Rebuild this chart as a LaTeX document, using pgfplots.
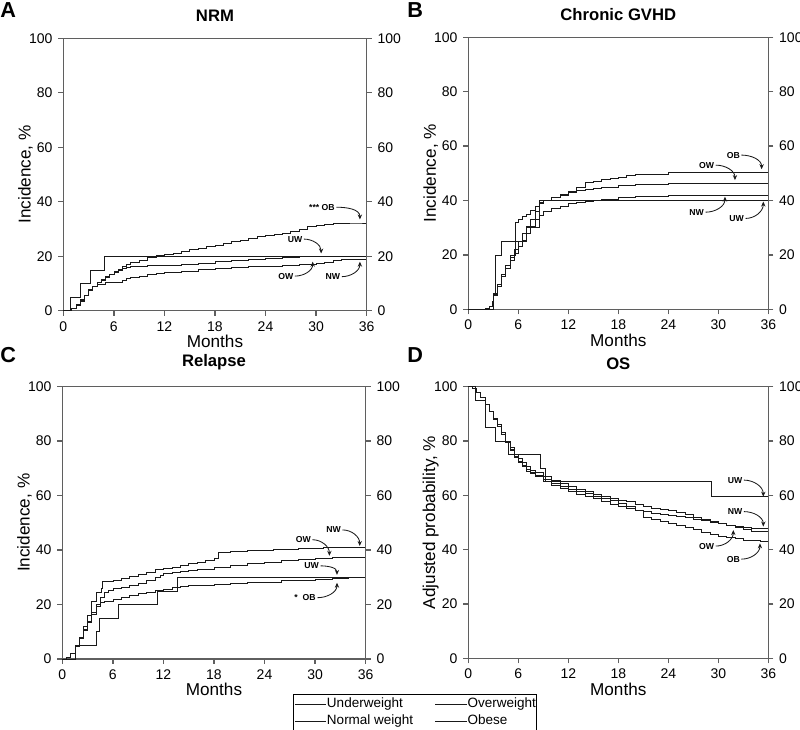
\documentclass[border=0pt]{standalone}
\usepackage{pgfplots}
\pgfplotsset{compat=1.18}
\usepackage{fontspec}
\setmainfont{Liberation Sans}
\usetikzlibrary{arrows.meta}
\definecolor{axgray}{RGB}{95,95,95}
\definecolor{curve}{RGB}{25,25,25}
\pgfplotsset{
  panel/.style={
    scale only axis, xmin=0, xmax=36, ymin=0, ymax=100,
    xtick={0,6,...,36}, ytick={0,20,...,100},
    tick align=outside, major tick length=3pt,
    xtick pos=left, ytick pos=left,
    axis line style={axgray, line width=0.8pt},
    every tick/.style={axgray, line width=0.8pt},
    tick label style={font=\fontsize{8.4}{10}\selectfont, black},
    /pgf/number format/assume math mode=true,
    title style={font=\bfseries\fontsize{10}{12}\selectfont, at={(0.5,1)}, anchor=south, inner sep=0pt, yshift=4pt},
    xlabel style={font=\fontsize{10.3}{12}\selectfont, at={(axis description cs:0.5,-0.113)}, anchor=center},
    ylabel style={font=\fontsize{10.3}{12}\selectfont, at={(axis description cs:-0.125,0.5)}, anchor=center},
    xlabel={Months},
    cycle list={{curve, mark=none, line width=0.8pt}},
    every axis plot post/.append style={const plot, forget plot},
    clip=false,
  },
  rightax/.style={
    scale only axis, xmin=0, xmax=36, ymin=0, ymax=100,
    hide x axis, axis y line*=right, ytick={0,20,...,100},
    tick align=outside, major tick length=3pt,
    axis line style={axgray, line width=0.8pt},
    every tick/.style={axgray, line width=0.8pt},
    tick label style={font=\fontsize{8.4}{10}\selectfont, black},
    /pgf/number format/assume math mode=true,
  },
}
\tikzset{arr/.style={-{Stealth[length=3pt,width=2.6pt]}, line width=0.5pt, curve},
  lab/.style={font=\bfseries\fontsize{5.2}{6}\selectfont, inner sep=0.8pt}}
\begin{document}
\begin{tikzpicture}
% ---------------- Panel A: NRM
\begin{axis}[panel, at={(37.98pt,-186.42pt)}, anchor=south west, width=182pt, height=163.4pt,
  title={NRM}, ylabel={Incidence, \%}]
\addplot coordinates {(0,0)(0.8,5)(2.0,10)(3.25,15)(4.85,20)(36,20)};
\addplot coordinates {(0,0)(0.5,0.3)(1,1)(1.5,2)(2,3.5)(2.5,5.5)(3,7.5)(3.5,9)(4,10.5)(4.5,11.5)(5,12.5)(5.5,13.5)(6,14.3)(6.5,15.2)(7,16.2)(7.5,17)(8,17.6)(9,18.5)(10,19.5)(11,20.2)(12,20.6)(13,21.2)(14,21.8)(15,22.5)(16,23)(17,23.5)(18,24)(19,24.6)(20,25.5)(21,26)(22,26.6)(23,27.2)(24,27.7)(25,28)(26,28.5)(27,29)(28,30)(29,31)(30,31.4)(31,31.6)(32,32)(33,32.2)(35,32.2)(36,32.6)};
\addplot coordinates {(0,0)(0.7,0.3)(1,1)(1.5,2)(2,3.8)(2.5,5.5)(3,7.5)(3.5,9)(4,10.5)(4.5,11.3)(5,12.3)(5.5,13.2)(6,14)(6.5,14.8)(7,15.5)(7.5,16)(8,16.2)(10,16.5)(12,16.8)(14,17.1)(16,17.5)(18,18.1)(20,18.6)(22,19)(24,19.2)(26,19.5)(28,19.8)(30,19.9)(33,20)(36,20.3)};
\addplot coordinates {(0,0)(0.7,0.3)(1,1)(1.5,2.3)(2,4)(2.5,5.8)(3,7.8)(3.5,9)(4,9.8)(5,10.3)(6,10.5)(7,11)(7.5,11.8)(8,12.2)(9,12.8)(10,13.2)(11,13.6)(12,14)(14,14.6)(16,15.2)(18,15.6)(20,16.1)(22,16.2)(24,16.3)(26,16.6)(28,17)(30,17.3)(31,17.6)(32,18.6)(33,18.8)(36,19)};
\node[lab] (a1) at (axis cs:30.7,38) {*** OB};
\draw[arr] (a1.east) to[out=0,in=90] (axis cs:35.2,33.5);
\node[lab] (a2) at (axis cs:27.5,26.3) {UW};
\draw[arr] (a2.east) to[out=0,in=90] (axis cs:30.6,21);
\node[lab] (a3) at (axis cs:26.4,12.7) {OW};
\draw[arr] (a3.east) to[out=0,in=-90] (axis cs:29.6,18);
\node[lab] (a4) at (axis cs:32,12.5) {NW};
\draw[arr] (a4.east) to[out=0,in=-90] (axis cs:35.2,18);
\end{axis}
\begin{axis}[rightax, at={(37.98pt,-186.42pt)}, anchor=south west, width=182pt, height=163.4pt]
\end{axis}
% ---------------- Panel B: Chronic GVHD
\begin{axis}[panel, at={(280.98pt,-185.58pt)}, anchor=south west, width=180pt, height=163.2pt,
  title={Chronic GVHD}, ylabel={Incidence, \%}]
\addplot coordinates {(0,0)(3.0,5)(3.3,20)(4.0,25)(6.93,30)(8.53,40)(36,40)};
\addplot coordinates {(0,0)(2,0.3)(2.5,1)(2.9,3)(3,6)(3.5,9)(4,13)(4.5,16)(5,20)(5.6,24)(5.7,32)(6,33)(6.5,34)(7,35)(7.5,36.5)(8,38)(8.5,39.5)(9,40.2)(10,41.3)(11,42.3)(12,43.5)(13,45)(14,46.5)(15,47)(16,47.7)(17,48.2)(18,48.6)(19,49.3)(20,49.7)(22,49.8)(24,50.3)(35.8,50.3)(36,50.6)};
\addplot coordinates {(0,0)(2,0.2)(2.5,1)(2.9,3)(3,5.5)(3.5,9)(4,13)(4.5,16)(5,19)(5.5,22)(6,25)(6.5,28)(7,30.5)(7.5,33)(8,36)(8.5,39)(9,40)(10,41)(11,42)(12,43)(13,43.7)(14,44.2)(15,44.6)(16,45)(18,45.5)(20,45.9)(22,46.1)(24,46.3)(36,46.5)};
\addplot coordinates {(0,0)(2,0.2)(2.5,1)(2.9,3)(3,5)(3.5,8.5)(4,12)(4.5,15)(5,18)(5.5,20.5)(6,23)(6.5,25.5)(7,28)(7.5,30.5)(8,33)(8.5,34.5)(9,36)(10,37.2)(11,38)(12,38.8)(13,39.3)(14,39.6)(15,40.2)(16,40.6)(18,41)(20,41.4)(24,41.8)(26,42)(36,42)};
\node[lab] (b1) at (axis cs:31.8,56.7) {OB};
\draw[arr] (b1.east) to[out=0,in=90] (axis cs:35.2,51.5);
\node[lab] (b2) at (axis cs:28.6,53) {OW};
\draw[arr] (b2.east) to[out=0,in=90] (axis cs:32,47.5);
\node[lab] (b3) at (axis cs:27.4,35.7) {NW};
\draw[arr] (b3.east) to[out=0,in=-90] (axis cs:30.8,41.4);
\node[lab] (b4) at (axis cs:32.2,33.4) {UW};
\draw[arr] (b4.east) to[out=0,in=-90] (axis cs:35.4,39.6);
\end{axis}
\begin{axis}[rightax, at={(280.98pt,-185.58pt)}, anchor=south west, width=180pt, height=163.2pt]
\end{axis}
% ---------------- Panel C: Relapse
\begin{axis}[panel, at={(37.38pt,-395.4pt)}, anchor=south west, width=182pt, height=163.4pt,
  title={Relapse}, ylabel={Incidence, \%},
  legend columns=2,
  legend cell align=left,
  legend style={at={(0.760,-0.127)}, anchor=north west, draw=black, line width=0.6pt,
    font=\fontsize{8.1}{9.5}\selectfont, inner xsep=0.6pt, inner ysep=1pt,
    nodes={inner xsep=0pt, inner ysep=1.4pt},
    /tikz/every even column/.append style={column sep=13pt}},
  legend image code/.code={\draw[#1] (0pt,0pt) -- (19pt,0pt);}]
\addplot coordinates {(0,0)(1.5,5)(4.0,10)(4.4,15)(6.65,20)(11.3,25)(13.6,30)(36,30)};
\addplot coordinates {(0,0)(0.5,0.5)(1,2)(1.5,4.5)(2,8)(2.5,12)(3,16)(3.5,21)(4,24.5)(4.6,26)(4.7,28.4)(5,28.6)(6,29)(7,29.5)(8,30.5)(9,31.2)(10,32)(11,32.8)(12,33.3)(13,33.8)(14,34.5)(15,35)(16,35.6)(17,36.2)(18,37)(18.5,39)(20,39.5)(22,39.8)(24,40)(25,40.3)(28,40.5)(31,41)(36,41)};
\addplot coordinates {(0,0)(0.5,0.5)(1,2)(1.5,4.5)(2,7.5)(2.5,10.5)(3,13.5)(3.5,16.5)(4,20)(4.5,22.5)(5,24.3)(5.5,25.3)(6,25.8)(7,26.4)(8,27)(9,27.8)(10,28.8)(11,30)(11.6,30.9)(12,31.3)(13,31.8)(14,32.2)(15,32.5)(16,32.8)(18,33.7)(20,34.5)(22,35)(24,35.6)(26,36.1)(28,36.5)(30,36.9)(32,37.3)(34,37.5)(36,37.9)};
\addplot coordinates {(0,0)(0.5,0.5)(1,2)(1.5,4.5)(2,7.5)(2.5,11)(3,14)(3.5,17)(4,19.5)(4.5,20.8)(5,21.3)(6,22)(7,22.6)(8,23.5)(9,24)(10,24.6)(11,25.2)(12,25.7)(13,26.3)(14,26.7)(15,27)(16,27.2)(18,27.6)(20,27.8)(22,28)(24,28.3)(26,28.8)(28,29)(30,29.3)(32,29.6)(34,29.9)(36,30.3)};
\node[lab] (c1) at (axis cs:32.2,47.4) {NW};
\draw[arr] (c1.east) to[out=0,in=90] (axis cs:35.3,41.5);
\node[lab] (c2) at (axis cs:28.6,43.8) {OW};
\draw[arr] (c2.east) to[out=0,in=90] (axis cs:31.7,37.9);
\node[lab] (c3) at (axis cs:29.6,34.2) {UW};
\draw[arr] (c3.east) to[out=0,in=90] (axis cs:32.6,30.9);
\node[lab] (c4) at (axis cs:28.8,22.5) {*\hspace{3pt}OB};
\draw[arr] (c4.east) to[out=0,in=-90] (axis cs:32.6,28);
\addlegendimage{curve, line width=0.6pt}
\addlegendentry{Underweight}
\addlegendimage{curve, line width=0.6pt}
\addlegendentry{Overweight}
\addlegendimage{curve, line width=0.6pt}
\addlegendentry{Normal weight}
\addlegendimage{curve, line width=0.6pt}
\addlegendentry{Obese}
\end{axis}
\begin{axis}[rightax, at={(37.38pt,-395.4pt)}, anchor=south west, width=182pt, height=163.4pt]
\end{axis}
% ---------------- Panel D: OS
\begin{axis}[panel, at={(280.98pt,-394.98pt)}, anchor=south west, width=180pt, height=163pt,
  title={OS}, ylabel={Adjusted probability, \%}]
\addplot coordinates {(0,100)(0.84,95)(2.04,85)(3.24,80)(4.84,75)(8.64,70)(9.24,65)(29.2,59.5)(36,59.5)};
\addplot coordinates {(0,100)(0.5,99.5)(1,98)(1.5,96)(2,93.5)(2.5,91)(3,88.5)(3.5,86)(4,83)(4.5,80)(5,77.5)(5.5,75)(6,73.5)(6.5,72)(7,70.5)(7.5,69.3)(8,68.3)(9,66.8)(10,65.5)(11,64.3)(12,63.3)(13,62.3)(14,61.3)(15,60.5)(16,59.8)(17,59)(18,58.3)(19,57.6)(20,56.8)(21,56)(22,55.3)(23,54.8)(24,54.5)(25,53.8)(26,53)(27,52)(28,51)(29,50.3)(30,49.8)(31,48.8)(32,48.4)(33,48.2)(34,48)(36,47.9)};
\addplot coordinates {(0,100)(0.5,99.5)(1,98)(1.5,96)(2,93.5)(2.5,91)(3,88.5)(3.5,85.5)(4,82.5)(4.5,79.5)(5,77)(5.5,74.5)(6,72.5)(6.5,71)(7,69.5)(7.5,68.5)(8,67.5)(9,66)(10,64.5)(11,63.3)(12,62.3)(13,61.5)(14,60.8)(15,59.7)(16,59)(17,58)(18,57)(19,55.8)(20,54.6)(21,54)(22,53.4)(23,53)(24,52.6)(25,52.2)(26,51.8)(27,51.2)(28,50.6)(29,50)(30,49.5)(31,49)(32,48.3)(33,47.3)(34,46.8)(36,46.6)};
\addplot coordinates {(0,100)(0.5,99.5)(1,98)(1.5,96)(2,93.5)(2.5,91)(3,88)(3.5,85.5)(4,82.5)(4.5,79.5)(5,76.5)(5.5,74)(6,72)(6.5,70.5)(7,69)(7.5,68)(8,67)(9,65.3)(10,63.8)(11,62.5)(12,61.5)(13,60.5)(14,59.8)(15,58.8)(16,57.8)(17,56.8)(18,56)(19,55.2)(20,54.3)(21,52)(22,51.2)(23,50.5)(24,49.8)(25,49)(26,48.3)(27,47.3)(28,46.3)(29,45.5)(30,44.8)(31,44.4)(32,44)(33,43.6)(34,43.3)(35,43)(36,42.7)};
\node[lab] (d1) at (axis cs:32,65.6) {UW};
\draw[arr] (d1.east) to[out=0,in=90] (axis cs:35.4,59.5);
\node[lab] (d2) at (axis cs:32,54) {NW};
\draw[arr] (d2.east) to[out=0,in=90] (axis cs:35.4,48.5);
\node[lab] (d3) at (axis cs:28.6,41.3) {OW};
\draw[arr] (d3.east) to[out=0,in=-90] (axis cs:31.8,47.2);
\node[lab] (d4) at (axis cs:31.8,36.5) {OB};
\draw[arr] (d4.east) to[out=0,in=-90] (axis cs:35,42.3);
\end{axis}
\begin{axis}[rightax, at={(280.98pt,-394.98pt)}, anchor=south west, width=180pt, height=163pt]
\end{axis}
% panel letters
\node[anchor=base west, inner sep=0pt, font=\bfseries\fontsize{13}{15}\selectfont] at (0pt,-10.8pt) {A};
\node[anchor=base west, inner sep=0pt, font=\bfseries\fontsize{13}{15}\selectfont] at (244.2pt,-10.8pt) {B};
\node[anchor=base west, inner sep=0pt, font=\bfseries\fontsize{13}{15}\selectfont] at (0pt,-217.8pt) {C};
\node[anchor=base west, inner sep=0pt, font=\bfseries\fontsize{13}{15}\selectfont] at (244.2pt,-217.8pt) {D};
\pgfresetboundingbox
\useasboundingbox (0pt,0pt) rectangle (480pt,-438pt);
\end{tikzpicture}
\end{document}
